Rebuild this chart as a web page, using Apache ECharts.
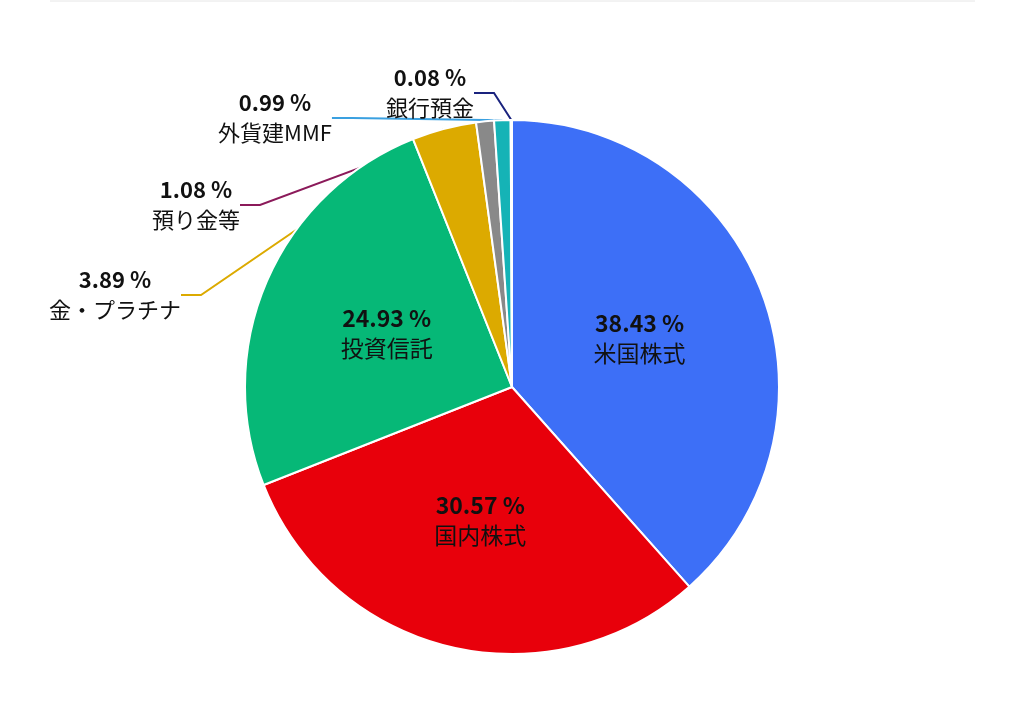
<!DOCTYPE html><html><head><meta charset="utf-8"><script src="https://cdn.jsdelivr.net/npm/echarts@6/dist/echarts.min.js"></script>
<style>html,body{margin:0;background:#fff}#c{width:1024px;height:717px}</style></head><body><div id="c"></div><script>
const categories=['米国株式','国内株式','投資信託','金・プラチナ','預り金等','外貨建MMF','銀行預金'];
const values=[38.43,30.57,24.93,3.89,1.08,0.99,0.08];
const colors=['#3d6ff7','#e8000b','#06b877','#dcaa00','#898989','#15b3b6','#1a237e'];
const lineColors=['#000','#000','#000','#dcaa00','#8b1a5a','#3aa0e0','#1a237e'];
const labelPos=[null,null,null,[115,295],[196,205],[275,118],[430,93]];
const chart=echarts.init(document.getElementById('c'));
const font='"Noto Sans CJK JP","Noto Sans",sans-serif';
chart.setOption({
 animation:false,
 graphic:[{type:'line',shape:{x1:50,y1:1,x2:975,y2:1},style:{stroke:'#e6e6e6',lineWidth:1}}],
 series:[{type:'pie',center:[512,387],radius:267,startAngle:90,clockwise:true,
  itemStyle:{borderColor:'#fff',borderWidth:2},
  labelLayout:function(p){const q=labelPos[p.dataIndex];if(!q)return {};return {x:q[0],y:q[1],align:'center',verticalAlign:'middle'};},
  data:categories.map((n,i)=>({name:n,value:values[i],itemStyle:{color:colors[i]},
   label:{show:true,position:i<3?'inner':'outside',fontFamily:font,color:'#111',fontSize:i<3?23:22,lineHeight:30,
     formatter:'{b|'+values[i].toFixed(2)+' %}\n'+n,rich:{b:{fontWeight:'bold',fontSize:i<3?23:22,fontFamily:font,color:'#111',lineHeight:30}}},
   labelLine:{show:i>=3,length:15,length2:20,lineStyle:{color:lineColors[i],width:2}}}))
 }]
});
</script></body></html>
